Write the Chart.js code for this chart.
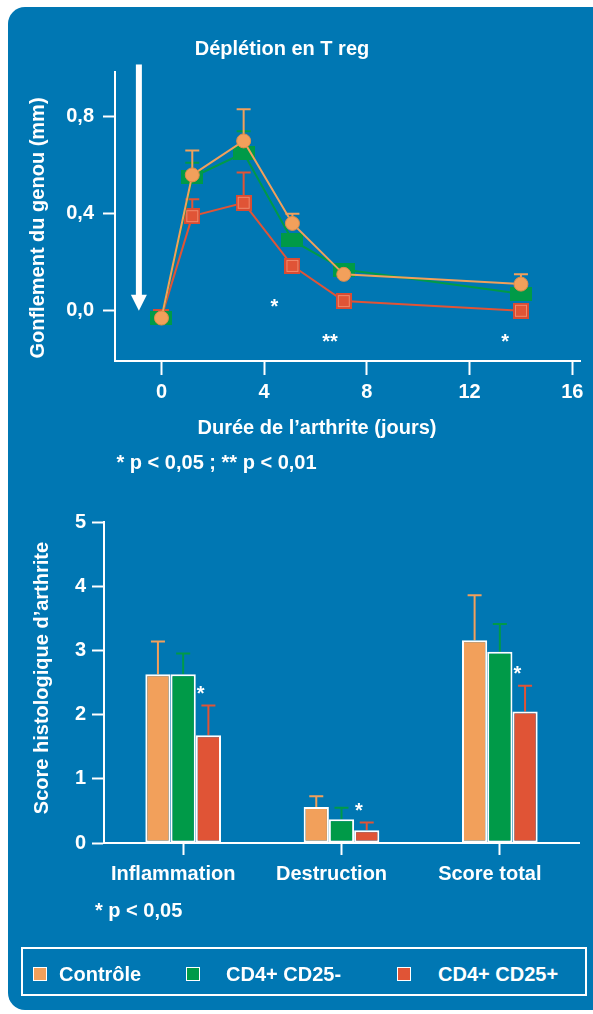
<!DOCTYPE html>
<html>
<head>
<meta charset="utf-8">
<script src="https://cdn.jsdelivr.net/npm/chart.js"></script>
<style>
  html, body { margin:0; padding:0; background:#ffffff; }
  body { width:593px; height:1014px; position:relative; overflow:hidden;
         font-family:"Liberation Sans", Arial, sans-serif; }
  #panel { position:absolute; left:8px; top:7px; width:610px; height:1003px;
           background:#0077B3; border-radius:17px; }
  .t { position:absolute; color:#fff; font-weight:bold; font-size:20px; white-space:nowrap; line-height:1; }
  .c { transform:translate(-50%,-50%); }
  .l { transform:translate(0,-50%); }
  .rot { transform:translate(-50%,-50%) rotate(-90deg); }
  canvas { position:absolute; left:0; }
  #legend { position:absolute; left:21px; top:947px; width:562px; height:45px;
            border:2px solid #fff; }
  .sw { position:absolute; width:12px; height:12px; border:1.5px solid #fff; top:966.5px; }
</style>
</head>
<body>
<div id="panel"></div>
<canvas id="top" width="593" height="440" style="top:0px;width:593px;height:440px"></canvas>
<canvas id="bot" width="593" height="440" style="top:490px;width:593px;height:440px"></canvas>

<div class="t c" style="left:282px;top:48px">Déplétion en T reg</div>
<div class="t rot" style="left:36.5px;top:227.5px">Gonflement du genou (mm)</div>
<div class="t c" style="left:317px;top:427px">Durée de l’arthrite (jours)</div>
<div class="t l" style="left:116.5px;top:462px">* p &lt; 0,05 ; ** p &lt; 0,01</div>
<div class="t rot" style="left:41px;top:678px">Score histologique d’arthrite</div>
<div class="t l" style="left:95px;top:909.5px">* p &lt; 0,05</div>

<div id="legend"></div>
<div class="sw" style="left:32.5px;background:#F2A05B"></div>
<div class="t l" style="left:59px;top:974px">Contrôle</div>
<div class="sw" style="left:186px;background:#009A48"></div>
<div class="t l" style="left:226px;top:974px">CD4+ CD25-</div>
<div class="sw" style="left:397px;background:#E05436"></div>
<div class="t l" style="left:438px;top:974px">CD4+ CD25+</div>

<script>
// ---------------- DATA ----------------
// Top chart: knee swelling over time
const days = [0, 1.2, 3.2, 5.1, 7.1, 14];
const swellControl    = [-0.03, 0.56, 0.70, 0.36, 0.15, 0.11];
const swellControlErr = [0, 0.10, 0.13, 0.04, 0, 0.04];
const swellNeg        = [-0.03, 0.55, 0.65, 0.29, 0.17, 0.07];
const swellNegErr     = [0, 0.06, 0.09, 0, 0, 0];
const swellPos        = [-0.025, 0.39, 0.445, 0.185, 0.04, 0.0];
const swellPosErr     = [0.025, 0.07, 0.125, 0, 0, 0];
const dayTicks   = [0, 4, 8, 12, 16];
const swellTicks = [0, 0.4, 0.8];
const sigTop = [ {x:4.4, y:0.037, t:'*'}, {x:6.56, y:-0.108, t:'**'}, {x:13.38, y:-0.108, t:'*'} ];

// Bottom chart: histological score
const histCategories = ['Inflammation', 'Destruction', 'Score total'];
const histControl    = [2.63, 0.56, 3.16];
const histControlErr = [0.51, 0.17, 0.70];
const histNeg        = [2.63, 0.37, 2.98];
const histNegErr     = [0.32, 0.18, 0.43];
const histPos        = [1.68, 0.20, 2.05];
const histPosErr     = [0.46, 0.12, 0.40];
const histTicks = [0, 1, 2, 3, 4, 5];
const sigBottom = [ {cat:0, y:2.41, t:'*'}, {cat:1, y:0.58, t:'*'}, {cat:2, y:2.72, t:'*'} ];

const seriesNames = ['Contrôle', 'CD4+ CD25-', 'CD4+ CD25+'];
const ORANGE = '#F2A05B', GREEN = '#009A48', RED = '#E05436';
const FONT = '"Liberation Sans", Arial, sans-serif';

// ---------------- MARKERS ----------------
function greenMarker(){
  const c = document.createElement('canvas'); c.width = 22; c.height = 14;
  const x = c.getContext('2d'); x.fillStyle = GREEN; x.fillRect(0,0,22,14); return c;
}
function redMarker(){
  const c = document.createElement('canvas'); c.width = 16; c.height = 16;
  const x = c.getContext('2d');
  x.fillStyle = '#D84C33'; x.fillRect(0,0,16,16);
  x.strokeStyle = '#F08A6C'; x.lineWidth = 1; x.strokeRect(2.5,2.5,11,11);
  x.fillStyle = RED; x.fillRect(3,3,10,10); return c;
}

// ---------------- PLUGINS ----------------
const errorBars = {
  id: 'errorBars',
  beforeDatasetsDraw(chart){
    const ctx = chart.ctx, ys = chart.scales.y;
    for (let i = chart.data.datasets.length - 1; i >= 0; i--) {
      const ds = chart.data.datasets[i];
      if (!ds.errorValues) continue;
      const meta = chart.getDatasetMeta(i);
      ctx.save(); ctx.strokeStyle = ds.errorColor; ctx.lineWidth = 2;
      meta.data.forEach((el, j) => {
        const e = ds.errorValues[j]; if (!e) return;
        const raw = ds.data[j]; const v = (typeof raw === 'object') ? raw.y : raw;
        const y0 = ys.getPixelForValue(v), y1 = ys.getPixelForValue(v + e);
        ctx.beginPath();
        ctx.moveTo(el.x, y0); ctx.lineTo(el.x, y1);
        ctx.moveTo(el.x - 7, y1); ctx.lineTo(el.x + 7, y1);
        ctx.stroke();
      });
      ctx.restore();
    }
  }
};

function drawStar(ctx, text, px, py){
  ctx.save(); ctx.fillStyle = '#fff'; ctx.font = 'bold 20px ' + FONT;
  ctx.textAlign = 'center'; ctx.textBaseline = 'alphabetic';
  ctx.fillText(text, px, py + 11.5); ctx.restore();
}

const topAnnot = {
  id: 'topAnnot',
  afterDraw(chart){
    const ctx = chart.ctx, xs = chart.scales.x, ys = chart.scales.y;
    sigTop.forEach(s => drawStar(ctx, s.t, xs.getPixelForValue(s.x), ys.getPixelForValue(s.y)));
    // depletion arrow
    const ax = xs.getPixelForValue(-0.88);
    const yTop = ys.getPixelForValue(1.015), yTip = ys.getPixelForValue(0.0);
    ctx.save(); ctx.fillStyle = '#fff';
    ctx.fillRect(ax - 3, yTop, 6, (yTip - 16) - yTop + 1);
    ctx.beginPath(); ctx.moveTo(ax - 8, yTip - 16); ctx.lineTo(ax + 8, yTip - 16); ctx.lineTo(ax, yTip); ctx.closePath(); ctx.fill();
    ctx.restore();
  }
};

const botAnnot = {
  id: 'botAnnot',
  afterDraw(chart){
    const ctx = chart.ctx, xs = chart.scales.x, ys = chart.scales.y;
    sigBottom.forEach(s => drawStar(ctx, s.t, xs.getPixelForValue(s.cat) + 17.5, ys.getPixelForValue(s.y)));
  }
};

Chart.defaults.font.family = FONT;
Chart.defaults.color = '#fff';

// ---------------- TOP CHART ----------------
const pts = arr => days.map((d, i) => ({x: d, y: arr[i]}));
new Chart(document.getElementById('top'), {
  type: 'scatter',
  data: { datasets: [
    { label: seriesNames[0], data: pts(swellControl), errorValues: swellControlErr, errorColor: ORANGE,
      showLine: true, borderColor: ORANGE, borderWidth: 2, pointStyle: 'circle', pointRadius: 7,
      pointBackgroundColor: ORANGE, pointBorderColor: '#E08C48', pointBorderWidth: 1, clip: false },
    { label: seriesNames[1], data: pts(swellNeg), errorValues: swellNegErr, errorColor: GREEN,
      showLine: true, borderColor: GREEN, borderWidth: 2, pointStyle: greenMarker(), clip: false },
    { label: seriesNames[2], data: pts(swellPos), errorValues: swellPosErr, errorColor: RED,
      showLine: true, borderColor: RED, borderWidth: 2, pointStyle: redMarker(), clip: false }
  ]},
  options: {
    responsive: false, devicePixelRatio: 1, animation: false,
    layout: { padding: { top: 72, right: 13, left: 0, bottom: 0 } },
    plugins: { legend: { display: false }, tooltip: { enabled: false } },
    scales: {
      x: { type: 'linear', min: -1.81, max: 16.3,
           afterBuildTicks: s => { s.ticks = dayTicks.map(v => ({value: v})); },
           afterFit: s => { s.height = 79; },
           border: { display: true, color: '#fff', width: 2 },
           grid: { drawOnChartArea: false, drawTicks: true, tickLength: 14, tickWidth: 2, tickColor: '#fff', color: '#fff' },
           ticks: { color: '#fff', font: { size: 20, weight: 'bold' }, padding: 5, maxRotation: 0, autoSkip: false } },
      y: { type: 'linear', min: -0.207, max: 0.984,
           afterBuildTicks: s => { s.ticks = swellTicks.map(v => ({value: v})); },
           afterFit: s => { s.width = 115; },
           border: { display: true, color: '#fff', width: 2 },
           grid: { drawOnChartArea: false, drawTicks: true, tickLength: 12, tickWidth: 2, tickColor: '#fff', color: '#fff' },
           ticks: { color: '#fff', font: { size: 20, weight: 'bold' }, padding: 9,
                    callback: v => v.toFixed(1).replace('.', ',') } }
    }
  },
  plugins: [errorBars, topAnnot]
});

// ---------------- BOTTOM CHART ----------------
const barDs = (label, data, err, color) => ({
  label, data, errorValues: err, errorColor: color,
  backgroundColor: color, borderColor: '#fff', borderWidth: 2, borderSkipped: false,
  barPercentage: 1, categoryPercentage: 0.478
});
new Chart(document.getElementById('bot'), {
  type: 'bar',
  data: { labels: histCategories, datasets: [
    barDs(seriesNames[0], histControl, histControlErr, ORANGE),
    barDs(seriesNames[1], histNeg, histNegErr, GREEN),
    barDs(seriesNames[2], histPos, histPosErr, RED)
  ]},
  options: {
    responsive: false, devicePixelRatio: 1, animation: false,
    layout: { padding: { top: 32, right: 14, left: 0, bottom: 0 } },
    plugins: { legend: { display: false }, tooltip: { enabled: false } },
    scales: {
      x: { afterFit: s => { s.height = 87; },
           border: { display: true, color: '#fff', width: 2 },
           grid: { offset: false, drawOnChartArea: false, drawTicks: true, tickLength: 12, tickWidth: 2, tickColor: '#fff', color: '#fff' },
           ticks: { color: '#fff', font: { size: 20, weight: 'bold' }, padding: 7, labelOffset: -10, maxRotation: 0 } },
      y: { min: 0, max: 5,
           afterBuildTicks: s => { s.ticks = histTicks.map(v => ({value: v})); },
           afterFit: s => { s.width = 104; },
           border: { display: true, color: '#fff', width: 2 },
           grid: { drawOnChartArea: false, drawTicks: true, tickLength: 12, tickWidth: 2, tickColor: '#fff', color: '#fff' },
           ticks: { color: '#fff', font: { size: 20, weight: 'bold' }, padding: 6 } }
    }
  },
  plugins: [errorBars, botAnnot]
});
</script>
</body>
</html>
